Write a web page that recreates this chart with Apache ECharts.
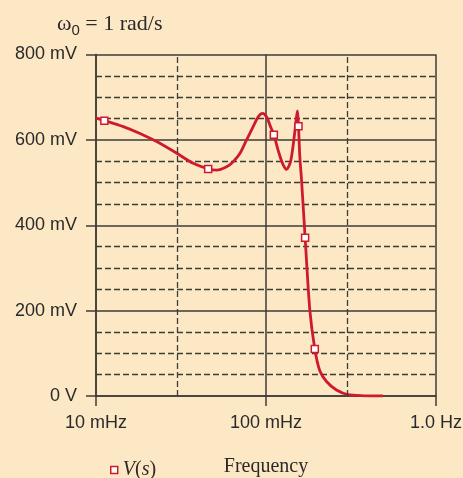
<!DOCTYPE html>
<html><head><meta charset="utf-8">
<script src="https://cdn.jsdelivr.net/npm/echarts@6/dist/echarts.min.js"></script>
<style>html,body{margin:0;padding:0;background:#fde8c5;} #c{width:463px;height:478px;}</style>
</head><body><div id="c"></div>
<script>
// Curve: frequency (Hz) and voltage (mV)
const curveFreq = [0.0100, 0.01125, 0.01447, 0.01814, 0.02274, 0.03005, 0.03730, 0.04571, 0.05123, 0.05862, 0.06410, 0.07020, 0.07686, 0.08405, 0.08994, 0.09544, 0.1007, 0.1063, 0.1112, 0.1178, 0.1251, 0.1320, 0.1394, 0.1458, 0.1512, 0.1532, 0.1553, 0.1581, 0.1618, 0.1699, 0.1810, 0.1937, 0.2072, 0.2269, 0.2598, 0.3039, 0.3800, 0.488];
const curveMV   = [651, 645, 631, 615, 596, 568, 545, 532, 529, 537, 549, 568, 600, 631, 654, 662, 654, 631, 612, 576, 545, 531, 549, 600, 654, 668, 632, 561, 506, 371, 202, 110, 59, 34, 14, 3, 0.5, 0];
// Marker points
const markerFreq = [0.0112, 0.0457, 0.1112, 0.1553, 0.1699, 0.1937];
const markerMV   = [645, 532, 612, 632, 371, 110];
// Tick labels
const xTickValues = [0.01, 0.1, 1];
const xTickLabels = ['10 mHz', '100 mHz', '1.0 Hz'];
const yTickValues = [0, 200, 400, 600, 800];
const yTickLabels = ['0 V', '200 mV', '400 mV', '600 mV', '800 mV'];
const minorFreqLines = [0.03, 0.3];

const RED = '#cf1a2e';
const GRID = '#3f3b37';
const TXT = '#2a2a2a';

const chart = echarts.init(document.getElementById('c'), null, {renderer: 'canvas'});
chart.setOption({
  backgroundColor: '#fde8c5',
  animation: false,
  title: {
    left: 52, top: 5,
    text: '{w|ω}{sub|0}{t| = 1 rad/s}',
    textStyle: {
      fontWeight: 'normal',
      rich: {
        w: {fontFamily: 'Liberation Serif', fontSize: 22, fontWeight: 'normal', color: TXT},
        sub: {fontFamily: 'Liberation Sans', fontSize: 15, fontWeight: 'normal', color: TXT, padding: [13, 0, 0, 0]},
        t: {fontFamily: 'Liberation Serif', fontSize: 22, fontWeight: 'normal', color: TXT}
      }
    }
  },
  legend: {
    left: 105, top: 455,
    itemWidth: 7, itemHeight: 7, itemGap: 10,
    data: [{name: 'V(s)', icon: 'rect', itemStyle: {color: '#fff', borderColor: RED, borderWidth: 1.5}}],
    formatter: function () { return '{i|V}{p|(}{i|s}{p|)}'; },
    textStyle: {
      rich: {
        i: {fontFamily: 'Liberation Serif', fontStyle: 'italic', fontSize: 20, color: TXT},
        p: {fontFamily: 'Liberation Serif', fontSize: 20, color: TXT}
      }
    }
  },
  grid: {left: 96, right: 27, top: 54.5, bottom: 82, containLabel: false, outerBoundsMode: 'none'},
  xAxis: {
    type: 'log', logBase: 10, min: 0.01, max: 1,
    name: 'Frequency', nameLocation: 'middle', nameGap: 61,
    nameTextStyle: {fontFamily: 'Liberation Serif', fontSize: 20, color: TXT},
    axisLine: {show: true, lineStyle: {color: GRID, width: 1.5}},
    axisTick: {show: true, length: 10, lineStyle: {color: GRID, width: 1.5}},
    axisLabel: {
      margin: 18, fontFamily: 'Liberation Sans', fontSize: 18, color: TXT,
      formatter: function (v) {
        for (let i = 0; i < xTickValues.length; i++) {
          if (Math.abs(Math.log10(v) - Math.log10(xTickValues[i])) < 1e-6) return xTickLabels[i];
        }
        return '';
      }
    },
    splitLine: {show: true, lineStyle: {color: GRID, width: 1.5}}
  },
  yAxis: {
    type: 'value', min: 0, max: 800, interval: 200,
    axisLine: {show: true, lineStyle: {color: GRID, width: 1.5}},
    axisTick: {show: true, length: 10, lineStyle: {color: GRID, width: 1.5}},
    axisLabel: {
      margin: 19, fontFamily: 'Liberation Sans', fontSize: 18, color: TXT,
      padding: [7, 0, 0, 0],
      formatter: function (v) {
        const i = yTickValues.indexOf(v);
        return i >= 0 ? yTickLabels[i] : '';
      }
    },
    splitLine: {show: true, lineStyle: {color: GRID, width: 1.5}},
    minorTick: {show: false, splitNumber: 4},
    minorSplitLine: {show: true, lineStyle: {color: GRID, width: 1.3, type: [6, 3]}}
  },
  series: [
    {
      name: 'V(s)', type: 'line',
      data: curveFreq.map((f, i) => [f, curveMV[i]]),
      smooth: 0.3,
      showSymbol: false, symbol: 'none',
      lineStyle: {color: RED, width: 2.8},
      itemStyle: {color: RED},
      z: 3,
      markLine: {
        silent: true, symbol: 'none', label: {show: false},
        lineStyle: {color: GRID, width: 1.3, type: [6, 3]},
        data: minorFreqLines.map(f => ({xAxis: f}))
      }
    },
    {
      name: 'V(s)', type: 'scatter',
      data: markerFreq.map((f, i) => [f, markerMV[i]]),
      symbol: 'rect', symbolSize: 7,
      itemStyle: {color: '#fff', borderColor: RED, borderWidth: 1.5, opacity: 1},
      z: 4
    }
  ]
});
</script>
</body></html>
